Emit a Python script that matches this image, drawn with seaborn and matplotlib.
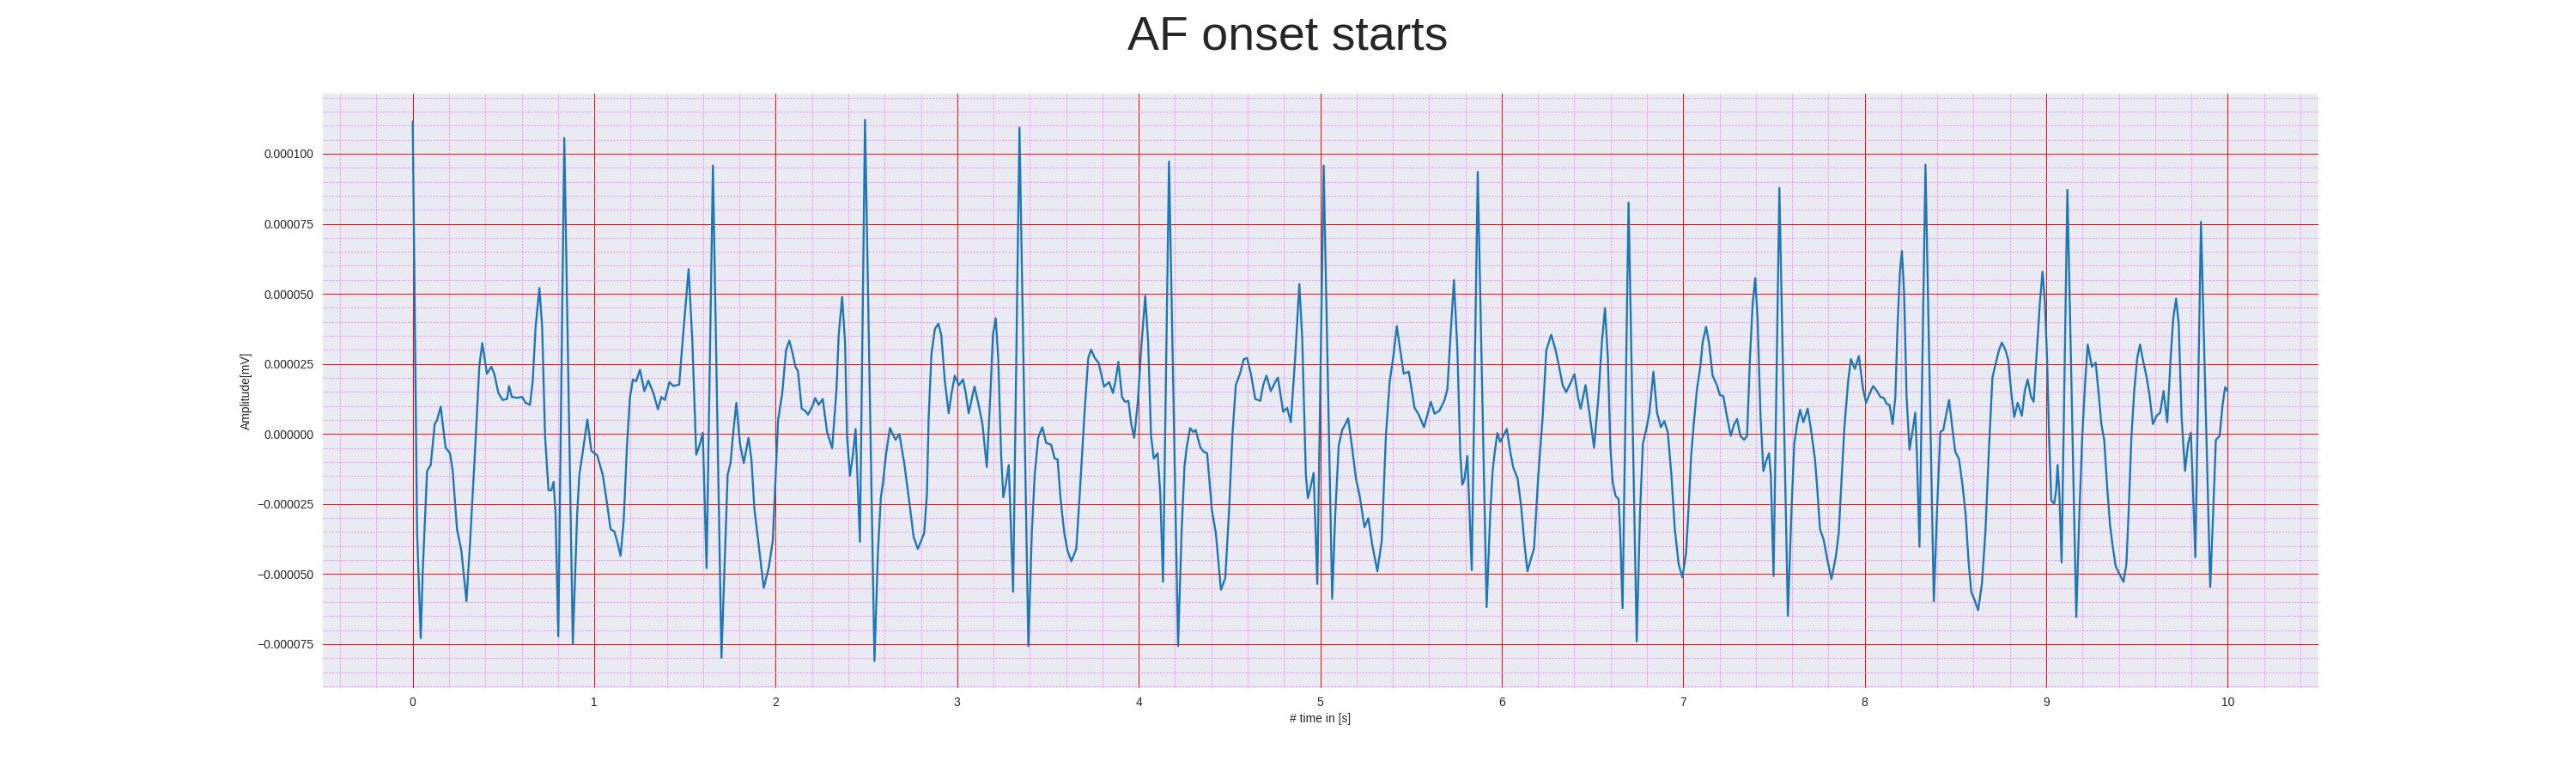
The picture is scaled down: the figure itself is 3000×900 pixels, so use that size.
import numpy as np
import pandas as pd
import matplotlib
matplotlib.use('Agg')
import matplotlib.pyplot as plt
import seaborn as sns
from matplotlib.ticker import MultipleLocator, AutoMinorLocator

# ECG trace: time in seconds, amplitude in 1e-6 mV
time_s = [
    0.000, 0.024, 0.044, 0.055, 0.079, 0.099, 0.121, 0.134, 0.154, 0.181,
    0.205, 0.220, 0.244, 0.268, 0.296, 0.315, 0.342, 0.367, 0.383, 0.409,
    0.433, 0.449, 0.472, 0.496, 0.520, 0.531, 0.546, 0.575, 0.603, 0.622,
    0.646, 0.661, 0.677, 0.698, 0.713, 0.729, 0.748, 0.764, 0.776, 0.787,
    0.802, 0.835, 0.882, 0.906, 0.918, 0.937, 0.962, 0.984,
    1.016, 1.047, 1.071, 1.090, 1.110, 1.126, 1.145, 1.162, 1.181, 1.197,
    1.213, 1.231, 1.252, 1.276, 1.298, 1.326, 1.351, 1.370, 1.389, 1.414,
    1.436, 1.468, 1.488, 1.520, 1.540, 1.562, 1.583, 1.598, 1.619, 1.654,
    1.701, 1.717, 1.735, 1.751, 1.764, 1.783, 1.803, 1.824, 1.850, 1.866,
    1.882, 1.906, 1.934, 1.961, 1.984,
    2.013, 2.036, 2.057, 2.075, 2.094, 2.107, 2.123, 2.143, 2.162, 2.178,
    2.201, 2.217, 2.237, 2.259, 2.283, 2.311, 2.335, 2.347, 2.366, 2.382,
    2.393, 2.409, 2.425, 2.440, 2.464, 2.492, 2.544, 2.563, 2.579, 2.591,
    2.607, 2.629, 2.660, 2.681, 2.708, 2.736, 2.760, 2.783, 2.818, 2.833,
    2.843, 2.858, 2.877, 2.896, 2.912, 2.932, 2.953, 2.969, 2.987, 3.009,
    3.032, 3.047, 3.063, 3.095, 3.118, 3.139, 3.163, 3.182, 3.197, 3.212,
    3.226, 3.242, 3.254, 3.269, 3.284, 3.308, 3.343, 3.392, 3.411, 3.427,
    3.446, 3.469, 3.490, 3.517, 3.537, 3.553, 3.569, 3.590, 3.608, 3.629,
    3.656, 3.675, 3.703, 3.722, 3.738, 3.758, 3.779, 3.809, 3.837, 3.858,
    3.872, 3.888, 3.908, 3.924, 3.943, 3.959, 3.975, 3.996,
    4.013, 4.036, 4.052, 4.068, 4.083, 4.104, 4.119, 4.134, 4.167, 4.217,
    4.236, 4.252, 4.264, 4.283, 4.300, 4.314, 4.340, 4.358, 4.377, 4.403,
    4.425, 4.453, 4.477, 4.497, 4.516, 4.535, 4.558, 4.579, 4.597, 4.618,
    4.642, 4.670, 4.686, 4.704, 4.728, 4.752, 4.767, 4.796, 4.818, 4.838,
    4.862, 4.885, 4.901, 4.921, 4.932, 4.943, 4.964, 4.984,
    5.019, 5.066, 5.083, 5.102, 5.121, 5.139, 5.154, 5.173, 5.197, 5.216,
    5.244, 5.265, 5.287, 5.315, 5.339, 5.362, 5.383, 5.402, 5.422, 5.441,
    5.460, 5.488, 5.520, 5.543, 5.572, 5.591, 5.609, 5.630, 5.657, 5.685,
    5.701, 5.717, 5.737, 5.756, 5.772, 5.783, 5.795, 5.811, 5.835, 5.868,
    5.917, 5.937, 5.950, 5.961, 5.976, 5.992,
    6.028, 6.047, 6.063, 6.088, 6.107, 6.126, 6.142, 6.162, 6.178, 6.202,
    6.226, 6.246, 6.273, 6.297, 6.312, 6.336, 6.355, 6.379, 6.401, 6.420,
    6.435, 6.462, 6.483, 6.509, 6.533, 6.552, 6.569, 6.585, 6.599, 6.612,
    6.628, 6.644, 6.653, 6.666, 6.699, 6.744, 6.762, 6.778, 6.798, 6.814,
    6.836, 6.856, 6.877, 6.896, 6.915, 6.935, 6.954, 6.975, 6.996,
    7.016, 7.028, 7.044, 7.060, 7.076, 7.095, 7.107, 7.126, 7.142, 7.162,
    7.186, 7.202, 7.221, 7.241, 7.262, 7.281, 7.297, 7.315, 7.336, 7.352,
    7.368, 7.383, 7.397, 7.410, 7.426, 7.442, 7.457, 7.473, 7.483, 7.498,
    7.530, 7.577, 7.596, 7.612, 7.628, 7.644, 7.662, 7.686, 7.703, 7.726,
    7.738, 7.754, 7.773, 7.793, 7.817, 7.841, 7.857, 7.872, 7.888, 7.909,
    7.924, 7.946, 7.968, 7.991,
    8.008, 8.024, 8.047, 8.068, 8.087, 8.106, 8.121, 8.137, 8.154, 8.169,
    8.181, 8.194, 8.205, 8.217, 8.231, 8.247, 8.263, 8.279, 8.288, 8.302,
    8.335, 8.381, 8.398, 8.417, 8.433, 8.449, 8.465, 8.483, 8.499, 8.520,
    8.540, 8.556, 8.572, 8.587, 8.606, 8.625, 8.646, 8.665, 8.685, 8.704,
    8.724, 8.740, 8.756, 8.776, 8.791, 8.808, 8.824, 8.843, 8.866, 8.882,
    8.898, 8.917, 8.931, 8.946, 8.965, 8.980, 8.993,
    9.005, 9.016, 9.028, 9.044, 9.055, 9.063, 9.073, 9.085, 9.117, 9.166,
    9.183, 9.199, 9.215, 9.229, 9.241, 9.252, 9.273, 9.289, 9.304, 9.320,
    9.336, 9.352, 9.367, 9.383, 9.407, 9.426, 9.442, 9.454, 9.470, 9.486,
    9.502, 9.517, 9.533, 9.552, 9.568, 9.588, 9.609, 9.628, 9.647, 9.667,
    9.686, 9.700, 9.716, 9.730, 9.746, 9.765, 9.782, 9.797, 9.806, 9.822,
    9.853, 9.904, 9.920, 9.935, 9.956, 9.972, 9.986, 10.000,
]

amp_micro = [
    111.5, -35.0, -72.9, -49.0, -13.2, -11.1, 3.5, 4.9, 9.7, -4.9,
    -6.9, -13.2, -34.0, -41.7, -59.7, -39.6, -7.6, 24.3, 32.4, 21.5,
    24.0, 21.5, 14.6, 12.1, 12.5, 17.1, 13.2, 12.9, 13.2, 11.1,
    10.4, 18.8, 38.2, 52.1, 38.2, -0.7, -20.1, -20.1, -17.1, -28.5,
    -72.2, 105.6, -75.0, -28.5, -14.6, -6.3, 5.1, -6.0,
    -7.6, -14.6, -25.0, -34.0, -34.7, -38.2, -43.5, -31.2, -3.5, 13.2,
    19.4, 18.8, 22.9, 15.3, 19.0, 14.6, 8.8, 13.2, 12.1, 18.5,
    17.1, 17.6, 34.0, 58.8, 34.0, -7.4, -3.5, 0.4, -47.9, 95.8,
    -79.9, -49.0, -14.6, -10.4, -0.7, 11.1, -3.5, -10.4, -1.4, -9.0,
    -26.4, -39.6, -54.9, -47.9, -38.0,
    4.9, 14.6, 29.9, 33.3, 28.5, 24.3, 22.2, 9.0, 8.3, 6.9,
    9.7, 12.8, 10.4, 12.5, 0.7, -5.1, 16.0, 35.4, 48.9, 32.6,
    -0.7, -14.9, -7.6, 1.8, -38.5, 112.1, -81.0, -42.4, -22.9, -17.4,
    -7.6, 2.1, -2.1, 0.0, -10.4, -24.3, -36.8, -41.0, -35.4, -21.5,
    6.3, 28.5, 37.5, 39.3, 35.4, 18.8, 7.4, 14.6, 20.8, 17.4,
    19.4, 14.6, 7.4, 16.9, 10.4, 3.5, -11.8, 13.2, 35.4, 41.3,
    27.1, -7.6, -22.6, -17.4, -11.1, -56.3, 109.3, -75.7, -35.4, -14.6,
    -1.4, 2.4, -3.2, -3.8, -8.8, -9.0, -22.9, -35.4, -41.7, -45.4,
    -41.0, -21.5, 9.0, 27.1, 30.1, 27.1, 25.4, 16.9, 18.5, 14.6,
    18.8, 25.7, 13.2, 11.5, 11.8, 3.5, -1.4, 12.0,
    29.9, 49.3, 32.6, -0.7, -8.8, -6.9, -21.5, -52.8, 97.2, -75.7,
    -35.4, -11.8, -4.9, 2.1, 0.7, 1.4, -4.9, -6.3, -6.9, -27.1,
    -35.4, -55.6, -51.4, -28.5, -0.7, 17.4, 21.5, 26.7, 27.1, 21.5,
    12.5, 11.8, 17.4, 20.8, 15.3, 18.5, 20.1, 7.9, 9.3, 4.2,
    27.1, 53.5, 34.0, -14.6, -22.9, -20.1, -13.9, -53.5,
    95.8, -58.8, -28.5, -4.2, 1.4, 3.5, 5.6, -3.5, -16.0, -21.5,
    -33.3, -30.1, -39.6, -49.0, -38.2, -0.7, 18.8, 27.1, 38.5, 29.9,
    21.5, 22.2, 9.3, 6.9, 2.4, 6.9, 11.5, 7.2, 8.3, 12.1,
    16.0, 34.0, 54.9, 29.9, -7.6, -18.1, -16.0, -7.9, -48.6, 93.5,
    -61.8, -28.5, -13.2, -6.9, 0.3, -2.8,
    1.8, -6.3, -11.8, -16.0, -25.7, -39.6, -49.0, -44.4, -41.0, -14.6,
    6.3, 29.9, 35.4, 29.9, 25.4, 17.4, 14.9, 18.1, 21.3, 13.2,
    9.0, 17.4, 7.6, -4.9, 13.2, 32.6, 44.9, 27.1, -4.9, -17.4,
    -22.2, -23.2, -35.4, -62.2, 82.6, -74.0, -28.5, -3.5, 2.1, 7.6,
    22.2, 7.6, 2.4, 4.6, 0.7, -14.6, -34.0, -46.5, -51.2,
    -42.4, -28.5, -7.6, 4.9, 16.0, 24.3, 32.6, 38.2, 32.6, 20.8,
    17.4, 13.9, 13.5, 6.3, -0.7, 3.5, 5.3, -0.7, -2.1, -0.7,
    27.1, 46.5, 55.6, 41.0, 6.3, -13.2, -9.7, -6.9, -14.6, -50.7,
    87.8, -64.9, -28.5, -3.5, 3.5, 8.6, 4.2, 9.0, 2.1, -9.0,
    -18.8, -34.0, -37.5, -44.4, -51.8, -43.8, -35.4, -17.4, 2.1, 18.8,
    26.7, 23.2, 27.8, 16.0,
    11.1, 13.9, 17.1, 15.3, 13.2, 12.8, 10.7, 10.4, 3.5, 13.2,
    38.2, 57.6, 65.3, 50.7, 13.2, -5.6, 0.7, 7.6, -7.6, -40.3,
    96.1, -59.7, -28.5, 0.7, 1.4, 6.9, 12.1, 2.1, -6.3, -9.0,
    -18.8, -28.5, -45.1, -56.3, -59.3, -62.9, -53.5, -35.4, -4.9, 20.1,
    25.7, 29.9, 32.6, 29.9, 26.4, 14.6, 6.0, 11.1, 6.5, 15.3,
    19.4, 13.2, 11.5, 27.1, 46.5, 57.9, 47.0,
    27.1, -0.7, -23.6, -25.0, -20.1, -11.1, -21.5, -45.8, 87.1, -65.3,
    -28.5, -0.7, 18.8, 31.9, 27.8, 24.0, 25.4, 14.6, 3.5, -2.1,
    -18.8, -32.6, -40.3, -47.2, -50.4, -52.8, -46.5, -28.5, -0.7, 16.0,
    27.1, 31.9, 26.4, 20.8, 14.6, 3.5, 6.5, 7.6, 15.3, 4.2,
    27.1, 41.0, 48.3, 39.6, 6.3, -13.2, -3.5, 0.4, -14.6, -44.0,
    75.7, -54.6, -28.5, -2.1, -0.7, 10.4, 16.7, 15.3,
]

df = pd.DataFrame({'time': time_s, 'amplitude': np.array(amp_micro) * 1e-6})

sns.set_style('darkgrid')
plt.rcParams['font.family'] = ['Liberation Sans', 'DejaVu Sans']

fig, ax = plt.subplots(figsize=(30, 9), dpi=100)
sns.lineplot(data=df, x='time', y='amplitude', ax=ax, estimator=None,
             sort=False, color='#1f77b4', linewidth=1.7)

# ECG paper style grid
ax.xaxis.set_major_locator(MultipleLocator(1))
ax.yaxis.set_major_locator(MultipleLocator(0.000025))
ax.xaxis.set_minor_locator(AutoMinorLocator(5))
ax.yaxis.set_minor_locator(AutoMinorLocator(5))
ax.grid(which='major', linestyle='-', linewidth=0.7, color='red')
ax.grid(which='minor', linestyle='--', linewidth=0.5, color='violet')

ax.set_xlabel('# time in [s]', fontsize=10)
ax.set_ylabel('Amplitude[mV]', fontsize=10)
ax.tick_params(labelsize=10)
fig.suptitle('AF onset starts', fontsize=40)

fig.savefig('out.png', dpi=100)
